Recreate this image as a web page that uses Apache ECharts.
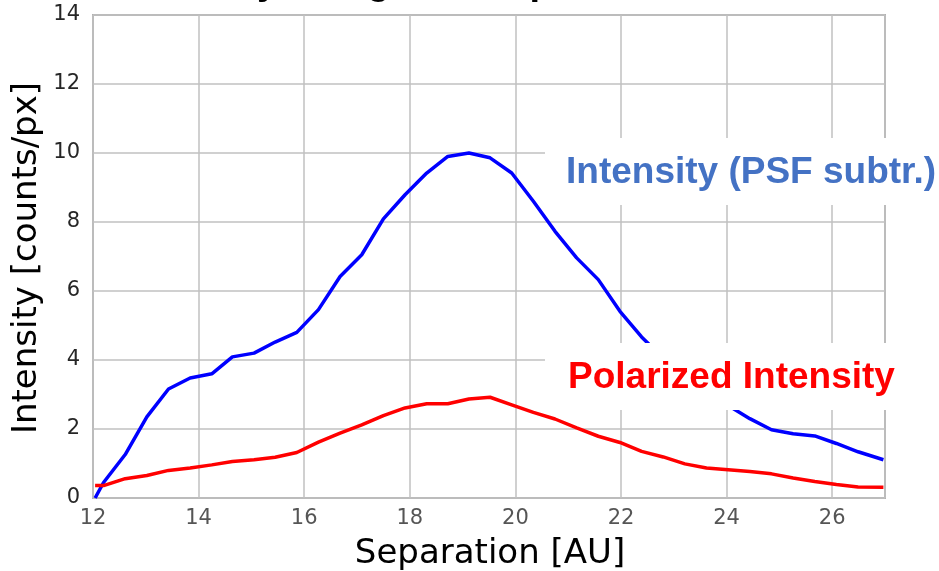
<!DOCTYPE html>
<html>
<head>
<meta charset="utf-8">
<script src="https://cdn.jsdelivr.net/npm/echarts@6/dist/echarts.min.js"></script>
<style>
html,body{margin:0;padding:0;background:#fff;}
#chart{width:939px;height:571px;}
</style>
</head>
<body>
<div id="chart"></div>
<script>
// Separation [AU]
var separation = [12.04, 12.2, 12.61, 13.02, 13.43, 13.84, 14.25, 14.64, 15.05, 15.45, 15.86, 16.27, 16.68, 17.09, 17.50, 17.91, 18.32, 18.72, 19.12, 19.52, 19.93, 20.34, 20.75, 21.16, 21.57, 21.98, 22.39, 22.80, 23.21, 23.62, 24.03, 24.44, 24.85, 25.26, 25.67, 26.08, 26.49, 26.97];
// Intensity (PSF subtr.)
var intensityPSF = [0.0, 0.45, 1.26, 2.35, 3.16, 3.48, 3.60, 4.09, 4.20, 4.52, 4.80, 5.46, 6.42, 7.05, 8.09, 8.79, 9.42, 9.90, 10.0, 9.86, 9.42, 8.60, 7.73, 6.96, 6.33, 5.41, 4.67, 4.05, 3.55, 3.12, 2.68, 2.30, 1.98, 1.86, 1.80, 1.58, 1.34, 1.11];
// Polarized Intensity
var polarized = [0.36, 0.36, 0.56, 0.65, 0.80, 0.87, 0.96, 1.06, 1.11, 1.18, 1.32, 1.62, 1.88, 2.12, 2.39, 2.61, 2.73, 2.73, 2.87, 2.92, 2.70, 2.48, 2.29, 2.03, 1.79, 1.61, 1.35, 1.19, 0.99, 0.87, 0.82, 0.77, 0.70, 0.58, 0.48, 0.39, 0.32, 0.31];

var titleText = 'Intensity along the SE part of the disk';
var xAxisTitle = 'Separation [AU]';
var yAxisTitle = 'Intensity [counts/px]';
var labelPSF = 'Intensity (PSF subtr.)';
var labelPol = 'Polarized Intensity';

function pairs(xs, ys){ return xs.map(function(x,i){ return [x, ys[i]]; }); }

var chart = echarts.init(document.getElementById('chart'), null, {renderer:'canvas'});
var gridColor = '#c0c0c0';
chart.setOption({
  animation:false,
  backgroundColor:'#ffffff',
  grid:{left:93, right:54, top:15, bottom:73, show:true, borderColor:'#b0b0b0', borderWidth:2, backgroundColor:'transparent'},
  xAxis:{
    type:'value', min:12, max:27, interval:2,
    axisLine:{show:false}, axisTick:{show:false},
    splitLine:{show:true, lineStyle:{color:gridColor, width:1.5}},
    axisLabel:{showMaxLabel:false, margin:10, color:'#555555', fontFamily:'DejaVu Sans', fontSize:21}
  },
  yAxis:{
    type:'value', min:0, max:14, interval:2,
    axisLine:{show:false}, axisTick:{show:false},
    splitLine:{show:true, lineStyle:{color:gridColor, width:1.5}},
    axisLabel:{margin:13, color:'#262626', fontFamily:'DejaVu Sans', fontSize:21}
  },
  series:[
    {type:'line', data:pairs(separation, intensityPSF), showSymbol:false, lineStyle:{color:'#0000ff', width:3.5}, itemStyle:{color:'#0000ff'}, z:3},
    {type:'line', data:pairs(separation, polarized), showSymbol:false, lineStyle:{color:'#ff0000', width:3.5}, itemStyle:{color:'#ff0000'}, z:3}
  ],
  graphic:[
    {type:'text', z:100, x:122, y:-16, style:{text:titleText, fill:'#000', font:'bold 38px "Liberation Sans", Arial, sans-serif', align:'left', verticalAlign:'middle'}},
    {type:'text', z:100, x:490, y:554, style:{text:xAxisTitle, fill:'#000', font:'34px "DejaVu Sans"', align:'center', verticalAlign:'middle'}},
    {type:'text', z:100, x:27, y:258, rotation:Math.PI/2, style:{text:yAxisTitle, fill:'#000', font:'34px "DejaVu Sans"', align:'center', verticalAlign:'middle'}},
    {type:'rect', z:90, shape:{x:545, y:138, width:394, height:67}, style:{fill:'#ffffff'}},
    {type:'rect', z:90, shape:{x:545, y:343, width:394, height:67}, style:{fill:'#ffffff'}},
    {type:'text', z:100, x:566, y:173, style:{text:labelPSF, fill:'#4472C4', font:'bold 37px "Liberation Sans", Arial, sans-serif', align:'left', verticalAlign:'middle'}},
    {type:'text', z:100, x:568, y:378, style:{text:labelPol, fill:'#ff0000', font:'bold 37px "Liberation Sans", Arial, sans-serif', align:'left', verticalAlign:'middle'}}
  ]
});
</script>
</body>
</html>
